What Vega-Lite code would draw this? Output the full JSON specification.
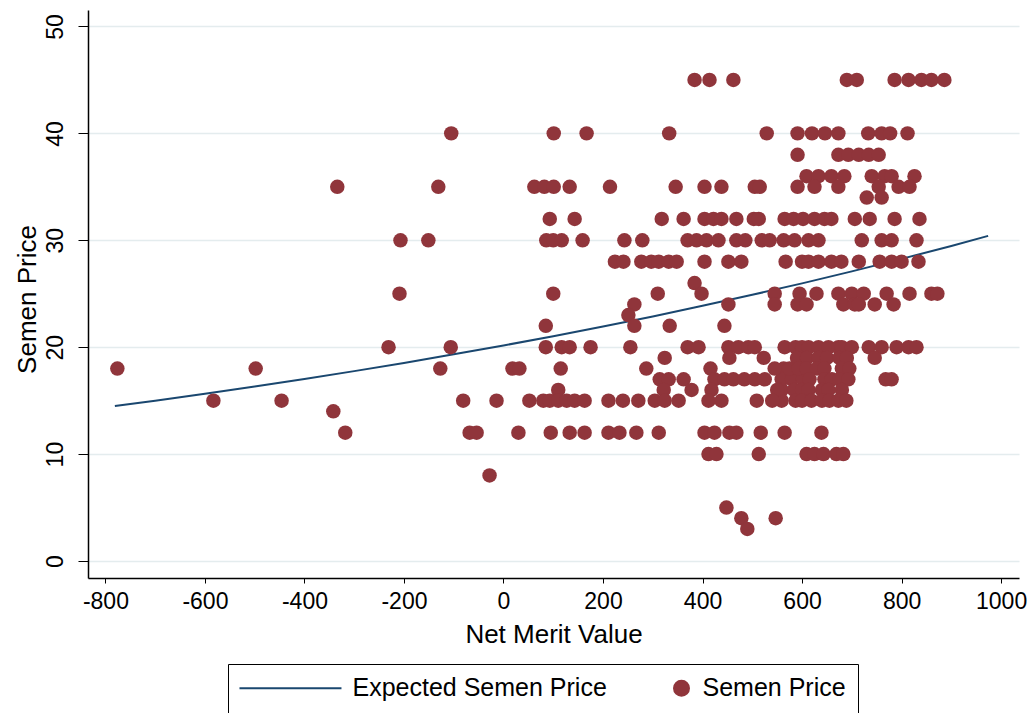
{
  "$schema": "https://vega.github.io/schema/vega-lite/v6.json",
  "width": 931,
  "height": 568,
  "autosize": {"type": "none"},
  "padding": {"left": 88, "top": 10, "right": 9, "bottom": 135},
  "background": "white",
  "config": {"view": {"stroke": null}, "font": "Liberation Sans"},
  "datasets": {
    "fit": [
      {"nm": -781, "price": 14.5}, {"nm": -700, "price": 15.0}, {"nm": -600, "price": 15.65}, {"nm": -500, "price": 16.33},
      {"nm": -400, "price": 17.03}, {"nm": -300, "price": 17.76}, {"nm": -200, "price": 18.53}, {"nm": -100, "price": 19.33},
      {"nm": 0, "price": 20.16}, {"nm": 100, "price": 21.03}, {"nm": 200, "price": 21.94}, {"nm": 300, "price": 22.88},
      {"nm": 400, "price": 23.87}, {"nm": 500, "price": 24.9}, {"nm": 600, "price": 25.97}, {"nm": 700, "price": 27.09},
      {"nm": 800, "price": 28.26}, {"nm": 900, "price": 29.47}, {"nm": 974, "price": 30.41}
    ],
    "points": [
      {"nm": -776, "price": 18}, {"nm": -583, "price": 15}, {"nm": -498, "price": 18}, {"nm": -446, "price": 15},
      {"nm": -342, "price": 14}, {"nm": -318, "price": 12}, {"nm": -334, "price": 35}, {"nm": -231, "price": 20},
      {"nm": -209, "price": 25}, {"nm": -207, "price": 30}, {"nm": -151, "price": 30}, {"nm": -131, "price": 35},
      {"nm": -105, "price": 40}, {"nm": -106, "price": 20}, {"nm": -127, "price": 18}, {"nm": -81, "price": 15},
      {"nm": -68, "price": 12}, {"nm": -54, "price": 12}, {"nm": -28, "price": 8}, {"nm": -14, "price": 15},
      {"nm": 18, "price": 18}, {"nm": 32, "price": 18}, {"nm": 30, "price": 12}, {"nm": 52, "price": 15},
      {"nm": 62, "price": 35}, {"nm": 82, "price": 35}, {"nm": 101, "price": 35}, {"nm": 133, "price": 35}, {"nm": 214, "price": 35},
      {"nm": 101, "price": 40}, {"nm": 167, "price": 40}, {"nm": 93, "price": 32}, {"nm": 143, "price": 32},
      {"nm": 86, "price": 30}, {"nm": 100, "price": 30}, {"nm": 117, "price": 30}, {"nm": 159, "price": 30}, {"nm": 243, "price": 30},
      {"nm": 100, "price": 25}, {"nm": 85, "price": 22},
      {"nm": 85, "price": 20}, {"nm": 117, "price": 20}, {"nm": 133, "price": 20}, {"nm": 175, "price": 20},
      {"nm": 115, "price": 18}, {"nm": 110, "price": 16},
      {"nm": 80, "price": 15}, {"nm": 93, "price": 15}, {"nm": 110, "price": 15}, {"nm": 127, "price": 15}, {"nm": 143, "price": 15},
      {"nm": 163, "price": 15}, {"nm": 211, "price": 15}, {"nm": 240, "price": 15},
      {"nm": 95, "price": 12}, {"nm": 133, "price": 12}, {"nm": 163, "price": 12}, {"nm": 211, "price": 12}, {"nm": 233, "price": 12},
      {"nm": 224, "price": 28}, {"nm": 241, "price": 28},
      {"nm": 384, "price": 45}, {"nm": 414, "price": 45}, {"nm": 462, "price": 45},
      {"nm": 333, "price": 40}, {"nm": 529, "price": 40}, {"nm": 591, "price": 40}, {"nm": 591, "price": 38},
      {"nm": 346, "price": 35}, {"nm": 404, "price": 35}, {"nm": 438, "price": 35}, {"nm": 505, "price": 35}, {"nm": 515, "price": 35}, {"nm": 591, "price": 35},
      {"nm": 318, "price": 32}, {"nm": 362, "price": 32}, {"nm": 404, "price": 32}, {"nm": 422, "price": 32}, {"nm": 438, "price": 32}, {"nm": 468, "price": 32},
      {"nm": 503, "price": 32}, {"nm": 513, "price": 32}, {"nm": 565, "price": 32}, {"nm": 583, "price": 32}, {"nm": 602, "price": 32},
      {"nm": 279, "price": 30}, {"nm": 370, "price": 30}, {"nm": 388, "price": 30}, {"nm": 408, "price": 30}, {"nm": 432, "price": 30}, {"nm": 468, "price": 30},
      {"nm": 486, "price": 30}, {"nm": 519, "price": 30}, {"nm": 535, "price": 30}, {"nm": 563, "price": 30}, {"nm": 585, "price": 30},
      {"nm": 277, "price": 28}, {"nm": 297, "price": 28}, {"nm": 312, "price": 28}, {"nm": 332, "price": 28}, {"nm": 348, "price": 28},
      {"nm": 404, "price": 28}, {"nm": 452, "price": 28}, {"nm": 478, "price": 28}, {"nm": 567, "price": 28}, {"nm": 600, "price": 28},
      {"nm": 384, "price": 26},
      {"nm": 310, "price": 25}, {"nm": 398, "price": 25}, {"nm": 545, "price": 25}, {"nm": 595, "price": 25},
      {"nm": 263, "price": 24}, {"nm": 452, "price": 24}, {"nm": 545, "price": 24}, {"nm": 591, "price": 24},
      {"nm": 251, "price": 23},
      {"nm": 263, "price": 22}, {"nm": 334, "price": 22}, {"nm": 444, "price": 22},
      {"nm": 255, "price": 20}, {"nm": 370, "price": 20}, {"nm": 392, "price": 20}, {"nm": 452, "price": 20}, {"nm": 472, "price": 20},
      {"nm": 492, "price": 20}, {"nm": 505, "price": 20}, {"nm": 565, "price": 20}, {"nm": 587, "price": 20},
      {"nm": 324, "price": 19}, {"nm": 454, "price": 19}, {"nm": 523, "price": 19},
      {"nm": 287, "price": 18}, {"nm": 416, "price": 18}, {"nm": 563, "price": 18},
      {"nm": 314, "price": 17}, {"nm": 332, "price": 17}, {"nm": 362, "price": 17}, {"nm": 424, "price": 17}, {"nm": 444, "price": 17}, {"nm": 462, "price": 17},
      {"nm": 484, "price": 17}, {"nm": 505, "price": 17}, {"nm": 525, "price": 17}, {"nm": 559, "price": 17}, {"nm": 580, "price": 17}, {"nm": 602, "price": 17},
      {"nm": 322, "price": 16}, {"nm": 378, "price": 16}, {"nm": 418, "price": 16}, {"nm": 559, "price": 16}, {"nm": 584, "price": 16},
      {"nm": 271, "price": 15}, {"nm": 304, "price": 15}, {"nm": 324, "price": 15}, {"nm": 352, "price": 15}, {"nm": 412, "price": 15},
      {"nm": 438, "price": 15}, {"nm": 509, "price": 15}, {"nm": 559, "price": 15}, {"nm": 587, "price": 15},
      {"nm": 267, "price": 12}, {"nm": 312, "price": 12}, {"nm": 404, "price": 12}, {"nm": 424, "price": 12}, {"nm": 454, "price": 12},
      {"nm": 468, "price": 12}, {"nm": 517, "price": 12}, {"nm": 565, "price": 12},
      {"nm": 412, "price": 10}, {"nm": 428, "price": 10}, {"nm": 513, "price": 10},
      {"nm": 448, "price": 5}, {"nm": 478, "price": 4}, {"nm": 547, "price": 4}, {"nm": 490, "price": 3},
      {"nm": 690, "price": 45}, {"nm": 710, "price": 45}, {"nm": 786, "price": 45}, {"nm": 814, "price": 45}, {"nm": 840, "price": 45}, {"nm": 860, "price": 45}, {"nm": 886, "price": 45},
      {"nm": 620, "price": 40}, {"nm": 646, "price": 40}, {"nm": 673, "price": 40}, {"nm": 733, "price": 40}, {"nm": 760, "price": 40}, {"nm": 777, "price": 40}, {"nm": 812, "price": 40},
      {"nm": 673, "price": 38}, {"nm": 693, "price": 38}, {"nm": 714, "price": 38}, {"nm": 734, "price": 38}, {"nm": 754, "price": 38},
      {"nm": 609, "price": 36}, {"nm": 633, "price": 36}, {"nm": 659, "price": 36}, {"nm": 685, "price": 36}, {"nm": 740, "price": 36}, {"nm": 766, "price": 36}, {"nm": 780, "price": 36}, {"nm": 826, "price": 36},
      {"nm": 625, "price": 35}, {"nm": 673, "price": 35}, {"nm": 754, "price": 35}, {"nm": 794, "price": 35}, {"nm": 816, "price": 35},
      {"nm": 730, "price": 34}, {"nm": 760, "price": 34},
      {"nm": 625, "price": 32}, {"nm": 645, "price": 32}, {"nm": 659, "price": 32}, {"nm": 706, "price": 32}, {"nm": 736, "price": 32}, {"nm": 786, "price": 32}, {"nm": 836, "price": 32},
      {"nm": 613, "price": 30}, {"nm": 633, "price": 30}, {"nm": 720, "price": 30}, {"nm": 760, "price": 30}, {"nm": 780, "price": 30}, {"nm": 830, "price": 30},
      {"nm": 613, "price": 28}, {"nm": 633, "price": 28}, {"nm": 659, "price": 28}, {"nm": 679, "price": 28}, {"nm": 714, "price": 28}, {"nm": 756, "price": 28}, {"nm": 780, "price": 28}, {"nm": 800, "price": 28}, {"nm": 834, "price": 28},
      {"nm": 629, "price": 25}, {"nm": 673, "price": 25}, {"nm": 700, "price": 25}, {"nm": 724, "price": 25}, {"nm": 770, "price": 25}, {"nm": 816, "price": 25}, {"nm": 860, "price": 25}, {"nm": 872, "price": 25},
      {"nm": 609, "price": 24}, {"nm": 683, "price": 24}, {"nm": 706, "price": 24}, {"nm": 714, "price": 24}, {"nm": 746, "price": 24}, {"nm": 784, "price": 24},
      {"nm": 600, "price": 20}, {"nm": 613, "price": 20}, {"nm": 633, "price": 20}, {"nm": 653, "price": 20}, {"nm": 673, "price": 20},
      {"nm": 680, "price": 20}, {"nm": 700, "price": 20}, {"nm": 734, "price": 20}, {"nm": 760, "price": 20}, {"nm": 790, "price": 20}, {"nm": 814, "price": 20}, {"nm": 830, "price": 20},
      {"nm": 590, "price": 19}, {"nm": 610, "price": 19}, {"nm": 633, "price": 19}, {"nm": 650, "price": 19}, {"nm": 675, "price": 19}, {"nm": 690, "price": 19}, {"nm": 746, "price": 19},
      {"nm": 545, "price": 18}, {"nm": 575, "price": 18}, {"nm": 593, "price": 18}, {"nm": 609, "price": 18}, {"nm": 630, "price": 18}, {"nm": 645, "price": 18}, {"nm": 680, "price": 18}, {"nm": 695, "price": 18},
      {"nm": 615, "price": 17}, {"nm": 645, "price": 17}, {"nm": 660, "price": 17}, {"nm": 675, "price": 17}, {"nm": 693, "price": 17}, {"nm": 768, "price": 17}, {"nm": 780, "price": 17},
      {"nm": 550, "price": 16}, {"nm": 600, "price": 16}, {"nm": 613, "price": 16}, {"nm": 640, "price": 16}, {"nm": 653, "price": 16}, {"nm": 680, "price": 16},
      {"nm": 540, "price": 15}, {"nm": 600, "price": 15}, {"nm": 619, "price": 15}, {"nm": 640, "price": 15}, {"nm": 655, "price": 15}, {"nm": 673, "price": 15}, {"nm": 689, "price": 15},
      {"nm": 639, "price": 12},
      {"nm": 609, "price": 10}, {"nm": 625, "price": 10}, {"nm": 643, "price": 10}, {"nm": 669, "price": 10}, {"nm": 683, "price": 10}
    ]
  },
  "encoding": {
    "x": {
      "field": "nm", "type": "quantitative",
      "scale": {"domain": [-835, 1036], "nice": false, "zero": false},
      "axis": {
        "values": [-800, -600, -400, -200, 0, 200, 400, 600, 800, 1000],
        "labelExpr": "'' + datum.value",
        "grid": false, "tickSize": 5, "tickColor": "black", "tickWidth": 1,
        "domainColor": "black", "domainWidth": 1.5,
        "labelFontSize": 23, "labelColor": "black", "labelPadding": 7, "labelFlush": false, "labelOverlap": false,
        "title": "Net Merit Value", "titleFontSize": 26, "titleFontWeight": "normal", "titleColor": "black",
        "titleY": 64, "titleBaseline": "alphabetic"
      }
    },
    "y": {
      "field": "price", "type": "quantitative",
      "scale": {"domain": [-1.59, 51.54], "nice": false, "zero": false},
      "axis": {
        "values": [0, 10, 20, 30, 40, 50],
        "grid": true, "gridColor": "#E4ECEE", "gridWidth": 1.5,
        "tickSize": 10, "tickColor": "black", "tickWidth": 1,
        "domainColor": "black", "domainWidth": 1.5,
        "labelAngle": -90, "labelAlign": "center", "labelBaseline": "alphabetic",
        "labelFontSize": 23, "labelColor": "black", "labelPadding": 16, "labelFlush": false, "labelOverlap": false,
        "title": "Semen Price", "titleFontSize": 26, "titleFontWeight": "normal", "titleColor": "black",
        "titleX": -53, "titleY": 289, "titleAngle": -90, "titleBaseline": "alphabetic"
      }
    }
  },
  "layer": [
    {
      "data": {"name": "fit"},
      "mark": {"type": "line", "strokeWidth": 2},
      "encoding": {
        "color": {
          "datum": "Expected Semen Price", "type": "nominal",
          "scale": {"domain": ["Expected Semen Price", "Semen Price"], "range": ["#1A476F", "#90353B"]},
          "legend": {
            "orient": "none", "legendX": 140, "legendY": 654, "direction": "horizontal",
            "title": null, "symbolSize": 225, "labelFontSize": 25, "labelColor": "black", "labelFont": "Liberation Sans",
            "labelLimit": 500, "labelOffset": 88, "columnPadding": 0, "padding": 11.5,
            "strokeColor": "black", "fillColor": "white",
            "encode": {
              "symbols": {
                "update": {
                  "shape": {"signal": "datum.value === 'Semen Price' ? 'M9.2,0A1,1,0,1,1,7.2,0A1,1,0,1,1,9.2,0Z' : 'M-1.67,0L11.93,0'"},
                  "fill": {"signal": "datum.value === 'Semen Price' ? '#90353B' : 'transparent'"},
                  "stroke": {"signal": "datum.value === 'Semen Price' ? 'transparent' : '#1A476F'"},
                  "strokeWidth": {"value": 2},
                  "opacity": {"value": 1}
                }
              },
              "labels": {
                "update": {
                  "dx": {"signal": "datum.value === 'Semen Price' ? -18 : 0"}
                }
              }
            }
          }
        }
      }
    },
    {
      "data": {"name": "points"},
      "mark": {"type": "point", "filled": true, "size": 210, "opacity": 1, "shape": "circle"},
      "encoding": {
        "color": {
          "datum": "Semen Price", "type": "nominal",
          "scale": {"domain": ["Expected Semen Price", "Semen Price"], "range": ["#1A476F", "#90353B"]},
          "legend": {
            "orient": "none", "legendX": 140, "legendY": 654, "direction": "horizontal",
            "title": null, "symbolSize": 225, "labelFontSize": 25, "labelColor": "black", "labelFont": "Liberation Sans",
            "labelLimit": 500, "labelOffset": 88, "columnPadding": 0, "padding": 11.5,
            "strokeColor": "black", "fillColor": "white",
            "encode": {
              "symbols": {
                "update": {
                  "shape": {"signal": "datum.value === 'Semen Price' ? 'M9.2,0A1,1,0,1,1,7.2,0A1,1,0,1,1,9.2,0Z' : 'M-1.67,0L11.93,0'"},
                  "fill": {"signal": "datum.value === 'Semen Price' ? '#90353B' : 'transparent'"},
                  "stroke": {"signal": "datum.value === 'Semen Price' ? 'transparent' : '#1A476F'"},
                  "strokeWidth": {"value": 2},
                  "opacity": {"value": 1}
                }
              },
              "labels": {
                "update": {
                  "dx": {"signal": "datum.value === 'Semen Price' ? -18 : 0"}
                }
              }
            }
          }
        }
      }
    }
  ]
}
